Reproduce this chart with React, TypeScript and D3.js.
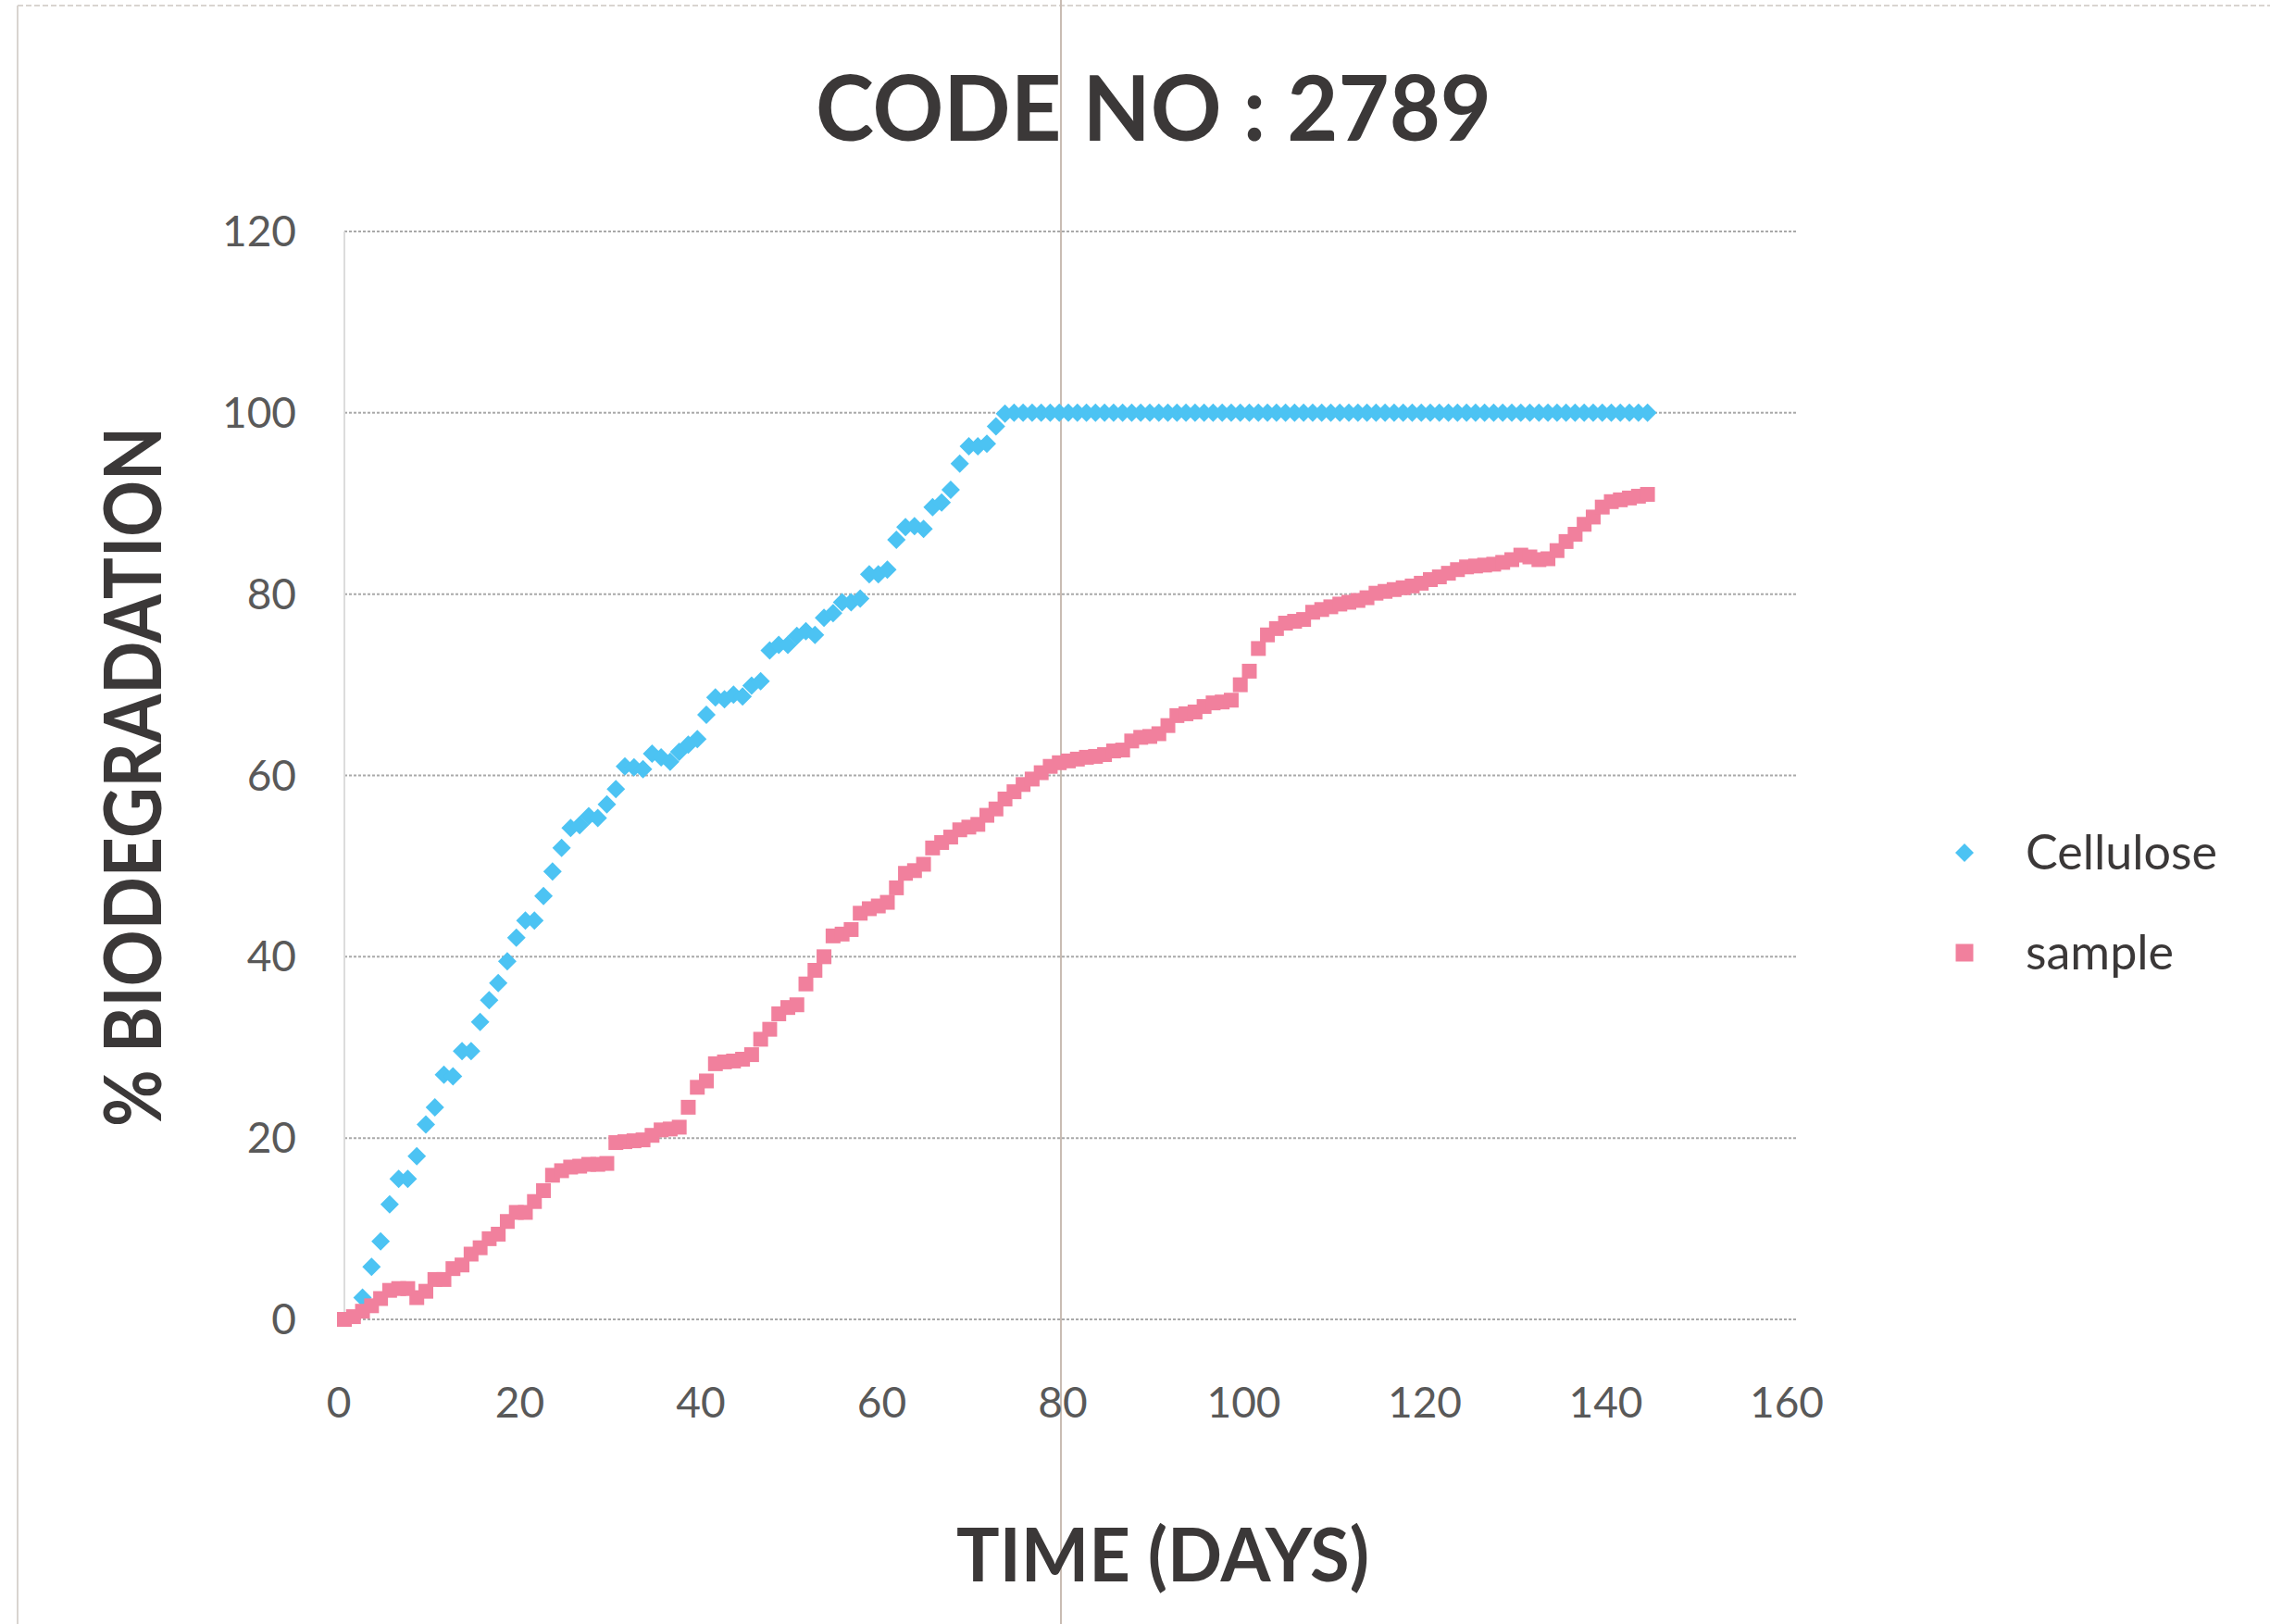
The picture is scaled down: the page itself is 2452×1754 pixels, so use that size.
import React, { useEffect, useRef } from 'react';
import * as d3 from 'd3';

const W = 2452;
const H = 1754;

const chartTitle = 'CODE NO : 2789';
const xTitle = 'TIME (DAYS)';
const yTitle = '% BIODEGRADATION';
const xTicks = [0, 20, 40, 60, 80, 100, 120, 140, 160];
const yTicks = [0, 20, 40, 60, 80, 100, 120];
const seriesNames = ['Cellulose', 'sample'];

// cellulose readings, one per day starting at day 2
const celluloseStartDay = 2;
const celluloseValues = [
  2.4, 5.8, 8.6, 12.7, 15.5, 15.5, 18, 21.5, 23.4, 27, 26.8, 29.6, 29.6, 32.8, 35.2, 37.1,
  39.5, 42.1, 44, 44, 46.7, 49.4, 52, 54.2, 54.5, 55.5, 55.3, 56.8, 58.5, 61, 60.9, 60.7,
  62.4, 62.0, 61.5, 62.6, 63.4, 64, 66.7, 68.6, 68.4, 68.9, 68.7, 69.9, 70.4, 73.8, 74.4, 74.4,
  75.4, 75.9, 75.5, 77.4, 77.9, 79.1, 79.1, 79.5, 82.2, 82.2, 82.7, 86, 87.4, 87.5, 87.2, 89.6,
  90.1, 91.5, 94.4, 96.3, 96.3, 96.6, 98.5, 99.9,
  100, 100, 100, 100, 100, 100, 100, 100, 100, 100, 100, 100, 100, 100, 100, 100, 100, 100,
  100, 100, 100, 100, 100, 100, 100, 100, 100, 100, 100, 100, 100, 100, 100, 100, 100, 100,
  100, 100, 100, 100, 100, 100, 100, 100, 100, 100, 100, 100, 100, 100, 100, 100, 100, 100,
  100, 100, 100, 100, 100, 100, 100, 100, 100, 100, 100, 100, 100, 100, 100, 100, 100,
];

// sample readings, one per day starting at day 0
const sampleStartDay = 0;
const sampleValues = [
  0, 0.3, 0.9, 1.5, 2.3, 3.2, 3.4, 3.4, 2.4, 3.1, 4.4, 4.4, 5.6, 6, 7.2, 7.9, 8.9, 9.4, 10.8,
  11.8, 11.8, 13, 14.2, 15.9, 16.4, 16.8, 16.9, 17.1, 17.1, 17.2, 19.5, 19.6, 19.7, 19.8, 20.3,
  20.9, 21, 21.2, 23.4, 25.6, 26.3, 28.2, 28.4, 28.5, 28.7, 29.2, 30.9, 32, 33.7, 34.4, 34.7,
  37, 38.5, 40, 42.3, 42.5, 43, 44.8, 45.3, 45.6, 46, 47.6, 49.2, 49.5, 50.2, 52, 52.6, 53.2,
  54, 54.3, 54.6, 55.6, 56.3, 57.4, 58.2, 59, 59.6, 60.3, 61, 61.4, 61.6, 61.8, 62, 62.1, 62.3,
  62.7, 62.8, 63.8, 64.2, 64.3, 64.6, 65.5, 66.6, 66.8, 67, 67.6, 68, 68.1, 68.3, 70, 71.5,
  74, 75.5, 76.2, 76.8, 77, 77.2, 78, 78.3, 78.6, 78.9, 79.1, 79.3, 79.6, 80.1, 80.3, 80.5,
  80.7, 80.9, 81.2, 81.6, 81.9, 82.3, 82.7, 83, 83.1, 83.2, 83.3, 83.5, 83.8, 84.3, 84.1,
  83.8, 83.9, 84.8, 85.8, 86.6, 87.7, 88.5, 89.6, 90.2, 90.4, 90.6, 90.8, 91,
];

const BLUE = '#4cc3f3';
const PINK = '#f1809d';
const TEXT = '#3b3838';
const TICK = '#595959';
const FONT = 'Lato, "Open Sans", sans-serif';

const diamond = (r: number) => `M0,${-r}L${r},0L0,${r}L${-r},0Z`;
const square = (s: number) => `M${-s / 2},${-s / 2}h${s}v${s}h${-s}Z`;

const App: React.FC = () => {
  const svgRef = useRef<SVGSVGElement>(null);

  useEffect(() => {
    document.body.style.margin = '0';
    if (!svgRef.current) return;
    const svg = d3.select(svgRef.current);
    svg.selectAll('*').remove();

    const x = d3.scaleLinear().domain([0, 160]).range([372, 1936]);
    const y = d3.scaleLinear().domain([0, 120]).range([1425, 250]);

    svg.append('rect').attr('width', W).attr('height', H).attr('fill', '#ffffff');

    // scan frame edges + fold line
    svg.append('line').attr('x1', 19).attr('x2', 19).attr('y1', 6).attr('y2', H)
      .attr('stroke', '#d9d4d0').attr('stroke-width', 2);
    svg.append('line').attr('x1', 19).attr('x2', W).attr('y1', 6).attr('y2', 6)
      .attr('stroke', '#d9d4d0').attr('stroke-width', 2).attr('stroke-dasharray', '6,3');
    svg.append('line').attr('x1', 1146).attr('x2', 1146).attr('y1', 0).attr('y2', H)
      .attr('stroke', '#c9bcb3').attr('stroke-width', 2);

    // grid
    const grid = svg.append('g');
    yTicks.forEach(t => {
      grid.append('line')
        .attr('x1', x(0)).attr('x2', x(160) + 4)
        .attr('y1', y(t)).attr('y2', y(t))
        .attr('stroke', '#a9a9a9').attr('stroke-width', 2)
        .attr('stroke-dasharray', '3,2');
    });
    grid.append('line')
      .attr('x1', x(0)).attr('x2', x(0)).attr('y1', y(120)).attr('y2', y(0))
      .attr('stroke', '#dcdcdc').attr('stroke-width', 2);

    // tick labels
    const labels = svg.append('g').attr('font-family', FONT).attr('fill', TICK).attr('font-size', 46);
    yTicks.forEach(t => {
      labels.append('text')
        .attr('x', 320).attr('y', y(t) + 16)
        .attr('text-anchor', 'end')
        .text(t);
    });
    xTicks.forEach(t => {
      labels.append('text')
        .attr('x', x(t) - 6).attr('y', 1531)
        .attr('text-anchor', 'middle')
        .text(t);
    });

    // series
    const cellG = svg.append('g').attr('fill', BLUE);
    cellG.selectAll('path')
      .data(celluloseValues)
      .enter().append('path')
      .attr('d', diamond(10))
      .attr('transform', (v, i) => `translate(${x(celluloseStartDay + i)},${y(v)})`);

    const sampleG = svg.append('g').attr('fill', PINK);
    sampleG.selectAll('path')
      .data(sampleValues)
      .enter().append('path')
      .attr('d', square(16))
      .attr('transform', (v, i) => `translate(${x(sampleStartDay + i)},${y(v)})`);

    // titles
    svg.append('text')
      .attr('x', 1246).attr('y', 152)
      .attr('text-anchor', 'middle')
      .attr('font-family', FONT).attr('font-weight', 'bold')
      .attr('font-size', 98).attr('fill', TEXT)
      .attr('textLength', 730).attr('lengthAdjust', 'spacingAndGlyphs')
      .text(chartTitle);

    svg.append('text')
      .attr('x', 1256).attr('y', 1708)
      .attr('text-anchor', 'middle')
      .attr('font-family', FONT).attr('font-weight', 'bold')
      .attr('font-size', 80).attr('fill', TEXT)
      .attr('textLength', 446).attr('lengthAdjust', 'spacingAndGlyphs')
      .text(xTitle);

    svg.append('text')
      .attr('transform', 'translate(174,839) rotate(-90)')
      .attr('text-anchor', 'middle')
      .attr('font-family', FONT).attr('font-weight', 'bold')
      .attr('font-size', 86).attr('fill', TEXT)
      .attr('textLength', 756).attr('lengthAdjust', 'spacingAndGlyphs')
      .text(yTitle);

    // legend
    const legend = svg.append('g').attr('font-family', FONT).attr('font-size', 52).attr('fill', TEXT);
    const legendRows = [
      { name: seriesNames[0], color: BLUE, shape: diamond(10), cy: 921 },
      { name: seriesNames[1], color: PINK, shape: square(19), cy: 1029 },
    ];
    legendRows.forEach(r => {
      legend.append('path').attr('d', r.shape).attr('fill', r.color)
        .attr('transform', `translate(2122,${r.cy})`);
      legend.append('text').attr('x', 2188).attr('y', r.cy + 18).text(r.name);
    });
  }, []);

  return <svg ref={svgRef} width={W} height={H} viewBox={`0 0 ${W} ${H}`} style={{ display: 'block' }} />;
};

export default App;
